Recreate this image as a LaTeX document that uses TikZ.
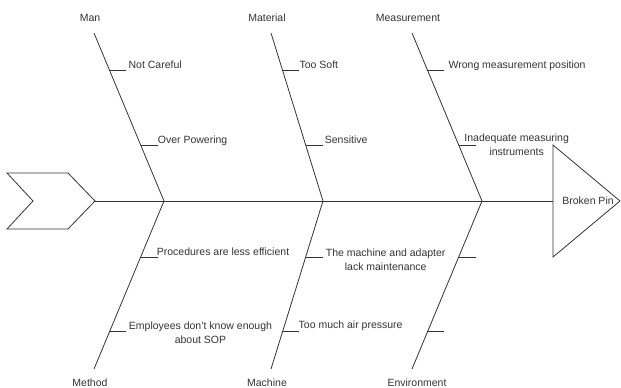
\documentclass[tikz,border=0pt]{standalone}
\usepackage{fontspec}
\setmainfont{Liberation Sans}
\usetikzlibrary{calc,positioning}

\begin{document}
\begin{tikzpicture} [
      x = 1pt, y = -1pt,
      every node/.style = { font = \fontsize{10.5}{14}\selectfont, text = black!80, inner sep = 0 },
      bone/.style = { draw = black!80, line width = 0.8pt },
      cause/.style = { anchor = base west },
      twoline/.style = { align = center }
      ]

      \useasboundingbox (0,0) rectangle (621,388);

      % spine, tail and head
      \coordinate (tail) at (95,201);
      \coordinate (head) at (553,201);
      \draw [bone] (7,173) -- (68,173) -- (tail) -- (68,229) -- (7,229) -- (33,201) -- cycle;
      \draw [bone] (head) -- (553,145) -- (620,201) -- (553,257) -- cycle;
      \node (effect) at (588,201) {Broken Pin};
      \draw [bone] (tail) -- (head);

      % bones
      \coordinate (j1) at (164,201);
      \coordinate (j2) at (323,201);
      \coordinate (j3) at (482,201);
      \coordinate (t1) at (94,33);
      \coordinate (t2) at (271,33);
      \coordinate (t3) at (412,33);
      \coordinate (b1) at (94,369);
      \coordinate (b2) at (271,369);
      \coordinate (b3) at (412,369);
      \node (man) at (90,18) {Man};
      \node (material) at (267,18) {Material};
      \node (measurement) at (408,18) {Measurement};
      \node (method) at (90,383) {Method};
      \node (machine) at (267,383) {Machine};
      \node (environment) at (417,383) {Environment};
      \draw [bone] (t1) -- (j1) -- (b1);
      \draw [bone] (t2) -- (j2) -- (b2);
      \draw [bone] (t3) -- (j3) -- (b3);

      % causes
      \coordinate (man1) at ($(t1)!0.22!(j1)$);
      \coordinate (man2) at ($(t1)!0.667!(j1)$);
      \coordinate (mat1) at ($(t2)!0.22!(j2)$);
      \coordinate (mat2) at ($(t2)!0.667!(j2)$);
      \coordinate (mea1) at ($(t3)!0.22!(j3)$);
      \coordinate (mea2) at ($(t3)!0.667!(j3)$);
      \coordinate (met1) at ($(j1)!0.333!(b1)$);
      \coordinate (met2) at ($(j1)!0.779!(b1)$);
      \coordinate (mac1) at ($(j2)!0.333!(b2)$);
      \coordinate (mac2) at ($(j2)!0.779!(b2)$);
      \coordinate (env1) at ($(j3)!0.333!(b3)$);
      \coordinate (env2) at ($(j3)!0.779!(b3)$);
      \foreach \c in {man1,man2,mat1,mat2,mea1,mea2,met1,met2,mac1,mac2,env1,env2}
        \draw [bone] (\c) -- ++(17,0);

      \node [cause] (careful) at ($(man1)+(19,-1.5)$) {Not Careful};
      \node [cause] (power) at ($(man2)+(17,-1.5)$) {Over Powering};
      \node [cause] (soft) at ($(mat1)+(17,-1.5)$) {Too Soft};
      \node [cause] (sensitive) at ($(mat2)+(19,-1.5)$) {Sensitive};
      \node [cause] (position) at ($(mea1)+(21,-1.5)$) {Wrong measurement position};
      \node [twoline] (instrument) at ($(mea2)+(58,0)$) {Inadequate measuring\\instruments};
      \node [cause] (procedure) at ($(met1)+(16,-1.5)$) {Procedures are less efficient};
      \node [twoline] (sop) at ($(met2)+(91,0.5)$) {Employees don't know enough\\about SOP};
      \node [twoline] (upkeep) at ($(mac1)+(80,3)$) {The machine and adapter\\lack maintenance};
      \node [cause] (pressure) at ($(mac2)+(16,-3)$) {Too much air pressure};
    \end{tikzpicture}
\end{document}
